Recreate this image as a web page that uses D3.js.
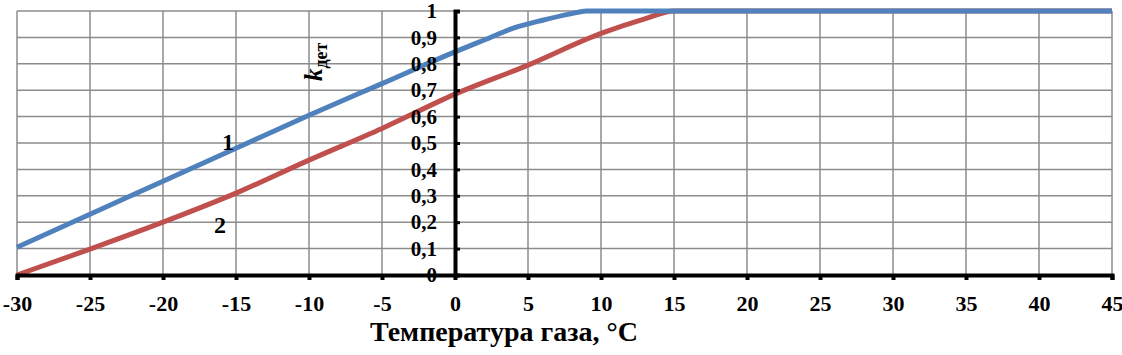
<!DOCTYPE html>
<html>
<head>
<meta charset="utf-8">
<script src="https://cdnjs.cloudflare.com/ajax/libs/d3/7.8.5/d3.min.js"></script>
<style>
  body { margin: 0; background: #fff; }
  svg text { font-family: "Liberation Serif", "Times New Roman", serif; font-weight: bold; }
</style>
</head>
<body>
<div id="chart"></div>
<script>
// curve 1 (blue) and curve 2 (red), k_det vs gas temperature
const temps1 = [-30, -25, -20, -15, -10, -5, 0, 2, 4, 6, 8, 9, 10, 15, 20, 25, 30, 35, 40, 45];
const kdet1  = [0.105, 0.23, 0.355, 0.48, 0.605, 0.725, 0.845, 0.89, 0.935, 0.965, 0.99, 1, 1, 1, 1, 1, 1, 1, 1, 1];
const temps2 = [-30, -25, -20, -15, -10, -5, 0, 5, 10, 13, 15, 20, 25, 30, 35, 40, 45];
const kdet2  = [0.0, 0.098, 0.2, 0.31, 0.435, 0.555, 0.685, 0.795, 0.915, 0.97, 1, 1, 1, 1, 1, 1, 1];
const xTicks = [-30, -25, -20, -15, -10, -5, 0, 5, 10, 15, 20, 25, 30, 35, 40, 45];
const yTicks = [0, 0.1, 0.2, 0.3, 0.4, 0.5, 0.6, 0.7, 0.8, 0.9, 1];

const width = 1122, height = 355;
const margin = {left: 17, right: 10, top: 11, bottom: 80};
const serif = "'Liberation Serif', 'Times New Roman', serif";

let svg = d3.select("#chart").append("svg")
  .attr("width", width)
  .attr("height", height);

let x = d3.scaleLinear().domain([-30, 45]).range([margin.left, width - margin.right]);
let y = d3.scaleLinear().domain([0, 1]).range([height - margin.bottom, margin.top]);

// grid
svg.append("g").selectAll("line.v")
  .data(xTicks)
  .enter().append("line")
  .attr("x1", d => x(d)).attr("x2", d => x(d))
  .attr("y1", y(0)).attr("y2", y(1))
  .attr("stroke", "#8c8c8c").attr("stroke-width", 1.5);

svg.append("g").selectAll("line.h")
  .data(yTicks)
  .enter().append("line")
  .attr("x1", x(-30)).attr("x2", x(45))
  .attr("y1", d => y(d)).attr("y2", d => y(d))
  .attr("stroke", "#8c8c8c").attr("stroke-width", 1.5);

let line = d3.line()
  .x(d => x(d[0]))
  .y(d => y(d[1]))
  .curve(d3.curveMonotoneX);

svg.append("path")
  .datum(temps2.map((t, i) => [t, kdet2[i]]))
  .attr("d", line)
  .attr("fill", "none")
  .attr("stroke", "#c0504d")
  .attr("stroke-width", 5);

svg.append("path")
  .datum(temps1.map((t, i) => [t, kdet1[i]]))
  .attr("d", line)
  .attr("fill", "none")
  .attr("stroke", "#4f81bd")
  .attr("stroke-width", 5);

// x axis
let xAxis = d3.axisBottom(x).tickValues(xTicks).tickSize(5).tickPadding(15)
  .tickFormat(d => String(d));
let gx = svg.append("g")
  .attr("transform", "translate(0," + y(0) + ")")
  .call(xAxis)
  .attr("font-family", serif)
  .attr("font-size", 22)
  .attr("font-weight", "bold");
gx.select(".domain").attr("stroke", "#000").attr("stroke-width", 4);
gx.selectAll(".tick line").attr("stroke", "#000").attr("stroke-width", 4);
gx.selectAll("text").attr("fill", "#000").style("font-family", serif).style("font-size", "22px");

// y axis at x = 0
let yAxis = d3.axisLeft(y).tickValues(yTicks).tickSize(-5).tickPadding(10)
  .tickFormat(d => d3.format(".1~f")(d).replace(".", ","));
let gy = svg.append("g")
  .attr("transform", "translate(" + x(0) + ",0)")
  .call(yAxis)
  .attr("font-family", serif)
  .attr("font-size", 21)
  .attr("font-weight", "bold");
gy.select(".domain").attr("stroke", "#000").attr("stroke-width", 4);
gy.selectAll(".tick line").attr("stroke", "#000").attr("stroke-width", 3);
gy.selectAll("text").attr("fill", "#000").attr("x", -18)
  .style("font-family", serif).style("font-size", "21px");

// axis titles
svg.append("text")
  .attr("x", 504)
  .attr("y", 341)
  .attr("text-anchor", "middle")
  .style("font-size", "28px")
  .text("Температура газа, °C");

let kLabel = svg.append("text")
  .attr("transform", "translate(322,81) rotate(-90)")
  .style("font-size", "25px");
kLabel.append("tspan").attr("font-style", "italic").text("k");
kLabel.append("tspan").style("font-size", "18px").attr("dy", 5).text("дет");

// curve labels
svg.append("text").attr("x", 228).attr("y", 150).attr("text-anchor", "middle")
  .style("font-size", "24px").text("1");
svg.append("text").attr("x", 220).attr("y", 233).attr("text-anchor", "middle")
  .style("font-size", "24px").text("2");
</script>
</body>
</html>
